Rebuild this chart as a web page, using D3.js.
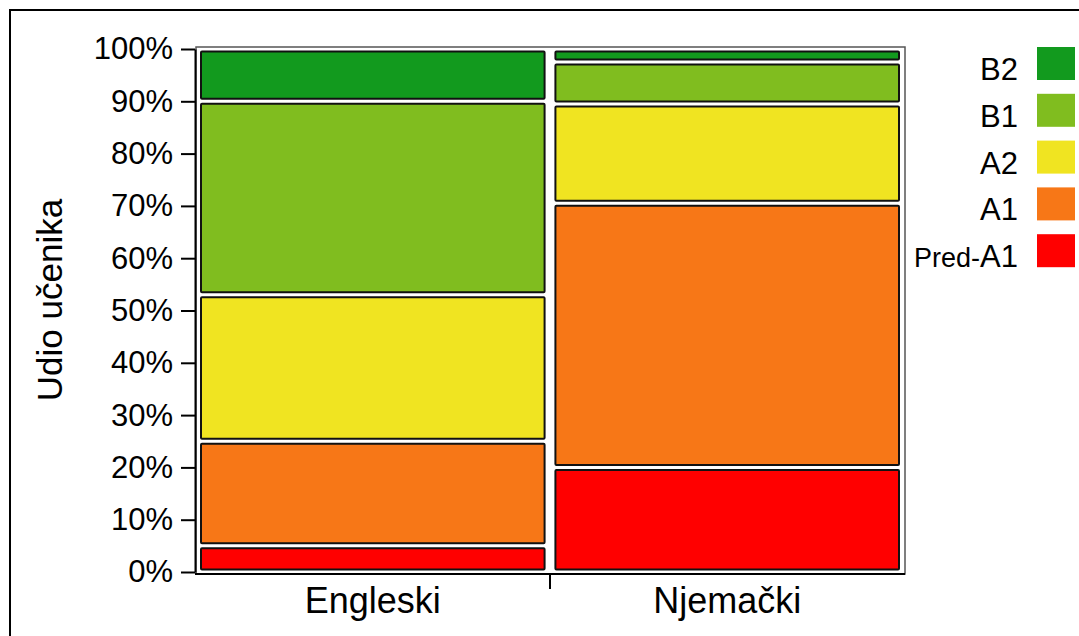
<!DOCTYPE html>
<html>
<head>
<meta charset="utf-8">
<script src="https://cdnjs.cloudflare.com/ajax/libs/d3/7.8.5/d3.min.js"></script>
<style>
  body { margin: 0; background: #fff; }
  text { font-family: Arial, "Liberation Sans", sans-serif; }
</style>
</head>
<body>
<svg id="chart" width="1079" height="636"></svg>
<script>
// data (shares of pupils per level)
var languages = ["Engleski", "Njemački"];
var levels = ["Pred-A1", "A1", "A2", "B1", "B2"];
var engleski = [0.05, 0.20, 0.28, 0.37, 0.10];
var njemacki = [0.20, 0.505, 0.19, 0.08, 0.025];
var levelColors = ["#ff0000", "#f77717", "#f0e421", "#80bd1f", "#129a1e"];
var yTicks = [0, 0.1, 0.2, 0.3, 0.4, 0.5, 0.6, 0.7, 0.8, 0.9, 1.0];

var svg = d3.select("#chart");

// outer frame of the picture
svg.append("rect")
  .attr("x", 10).attr("y", 10)
  .attr("width", 1090).attr("height", 650)
  .attr("fill", "none").attr("stroke", "#000").attr("stroke-width", 2);

var x = d3.scaleBand().domain(languages).range([197, 903]).paddingInner(0.008);
var y = d3.scaleLinear().domain([0, 1]).range([572, 49]);
var color = d3.scaleOrdinal().domain(levels).range(levelColors);

// stack rows
var rows = languages.map(function (lang, i) {
  var vals = i === 0 ? engleski : njemacki;
  var row = { lang: lang };
  levels.forEach(function (l, j) { row[l] = vals[j]; });
  return row;
});
var series = d3.stack().keys(levels)(rows);

// plot area frame
svg.append("rect")
  .attr("x", 196).attr("y", 47)
  .attr("width", 709).attr("height", 527)
  .attr("fill", "#fff").attr("stroke", "#555").attr("stroke-width", 1.5);

svg.append("g").selectAll("g")
  .data(series)
  .join("g")
  .attr("fill", function (d) { return color(d.key); })
  .selectAll("rect")
  .data(function (d) { return d; })
  .join("rect")
  .attr("x", function (d) { return x(d.data.lang) + 4; })
  .attr("width", x.bandwidth() - 8)
  .attr("y", function (d) { return y(d[1]) + 2.5; })
  .attr("height", function (d) { return Math.max(y(d[0]) - y(d[1]) - 5, 1); })
  .attr("stroke", "#111").attr("stroke-width", 2)
  .attr("rx", 1);

// y axis
var yAxis = d3.axisLeft(y).tickValues(yTicks).tickFormat(d3.format(".0%"))
  .tickSize(14).tickSizeOuter(0).tickPadding(8);
var gy = svg.append("g").attr("transform", "translate(195,0)").call(yAxis);
gy.selectAll("text").style("font-size", "31px").attr("fill", "#000");
gy.selectAll("line, path").attr("stroke", "#000").attr("stroke-width", 2);

// x axis
var xAxis = d3.axisBottom(x).tickSize(0).tickPadding(13);
var gx = svg.append("g").attr("transform", "translate(0,574)").call(xAxis);
gx.select(".domain").remove();
gx.selectAll("text").style("font-size", "36px").attr("fill", "#000");
svg.append("line")
  .attr("x1", 195).attr("x2", 905).attr("y1", 574).attr("y2", 574)
  .attr("stroke", "#000").attr("stroke-width", 2);
var divX = (x(languages[0]) + x.bandwidth() + x(languages[1])) / 2;
svg.append("line")
  .attr("x1", divX).attr("x2", divX).attr("y1", 574).attr("y2", 589)
  .attr("stroke", "#000").attr("stroke-width", 2);

// y axis title
svg.append("text")
  .attr("transform", "translate(62,300) rotate(-90)")
  .attr("text-anchor", "middle")
  .style("font-size", "35px")
  .text("Udio učenika");

// legend, top item is B2
var legendItems = levels.slice().reverse();
var lg = svg.append("g").selectAll("g")
  .data(legendItems)
  .join("g")
  .attr("transform", function (d, i) { return "translate(0," + (47 + i * 46.8) + ")"; });
lg.append("rect")
  .attr("x", 1037).attr("width", 38).attr("height", 33)
  .attr("fill", function (d) { return color(d); });
var lt = lg.append("text")
  .attr("x", 1018).attr("y", 33)
  .attr("text-anchor", "end")
  .style("font-size", "31px");
lt.each(function (d) {
  var t = d3.select(this);
  if (d === "Pred-A1") {
    t.append("tspan").style("font-size", "27px").text("Pred-");
    t.append("tspan").text("A1");
  } else {
    t.text(d);
  }
});
</script>
</body>
</html>
